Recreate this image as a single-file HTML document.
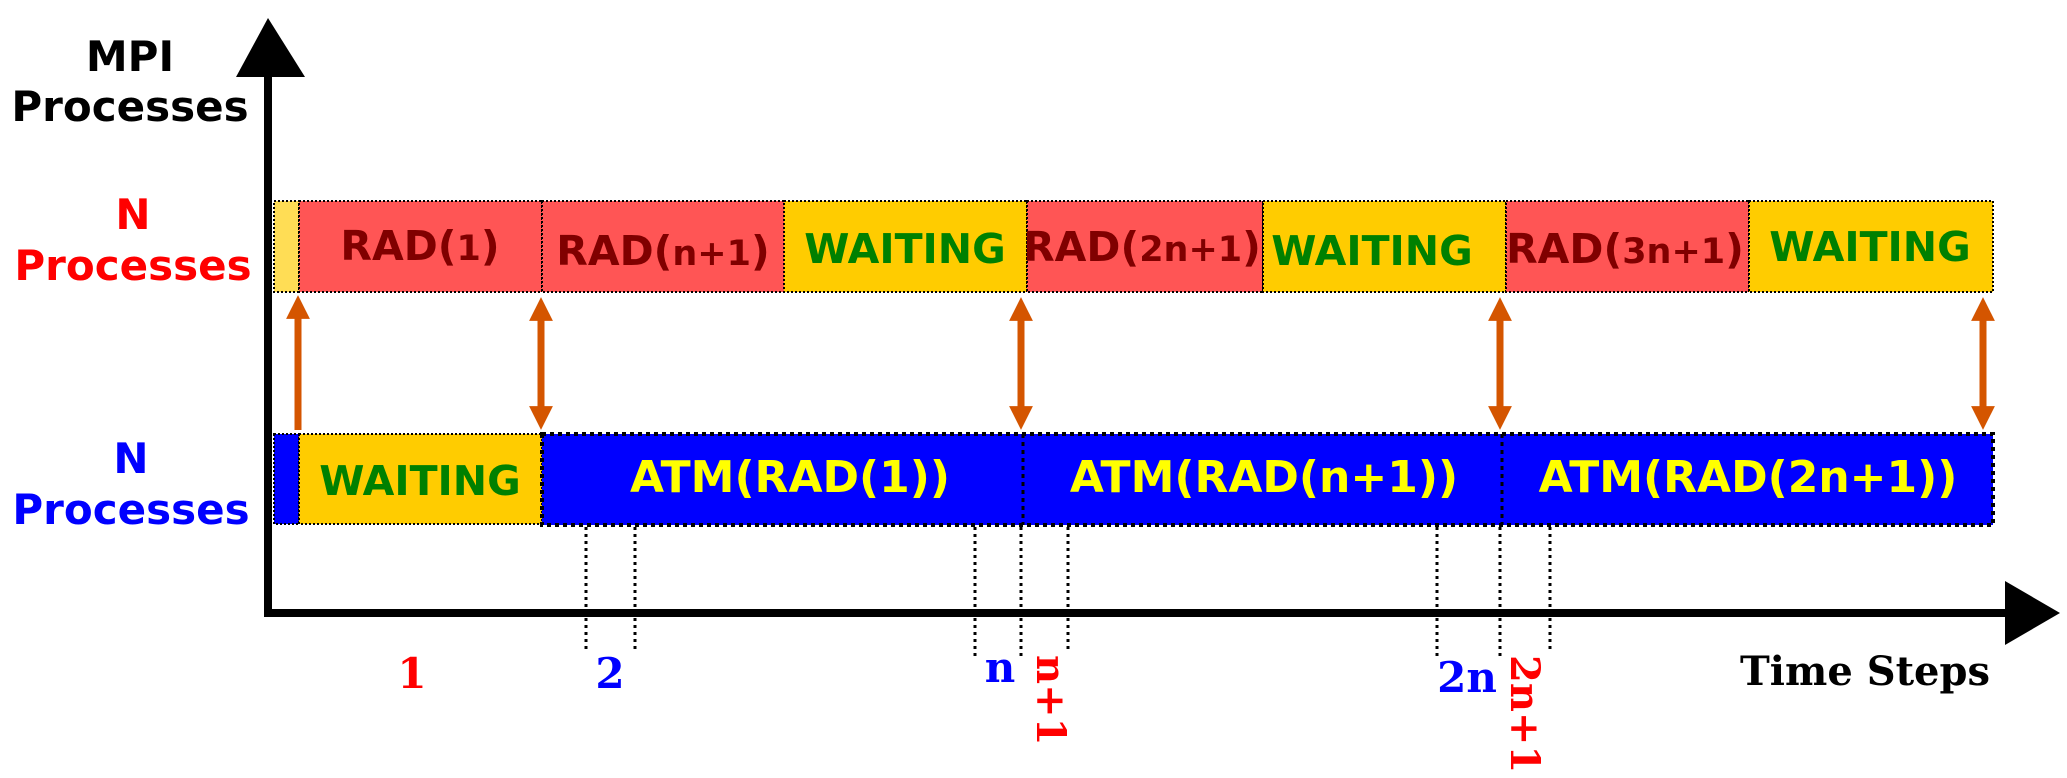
<!DOCTYPE html>
<html><head><meta charset="utf-8"><style>
html,body{margin:0;padding:0;background:#fff;}
svg{display:block;}
.b{font-family:"DejaVu Sans","Liberation Sans",sans-serif;font-weight:bold;}
.s{font-family:"DejaVu Serif","Liberation Serif",serif;font-weight:bold;}
</style></head><body>
<svg width="2067" height="778" viewBox="0 0 2067 778" xmlns="http://www.w3.org/2000/svg">
<defs>
<marker id="ah" viewBox="0 0 10 10" refX="5" refY="5" markerWidth="3.4" markerHeight="4" orient="auto-start-reverse" markerUnits="strokeWidth">
<path d="M0,0 L10,5 L0,10 z" fill="#d45500"/></marker>
</defs>
<line x1="268" y1="70" x2="268" y2="617" stroke="#000" stroke-width="8"/>
<polygon points="236,77 268,18 305,77" fill="#000"/>
<line x1="264" y1="613" x2="2010" y2="613" stroke="#000" stroke-width="8"/>
<polygon points="2005,581 2060,613 2005,645" fill="#000"/>
<g class="b" font-size="42" text-anchor="middle">
<text x="130" y="71" fill="#000">MPI</text>
<text x="130" y="121" fill="#000">Processes</text>
<text x="133" y="229" fill="#ff0000">N</text>
<text x="133" y="280" fill="#ff0000">Processes</text>
<text x="131" y="473" fill="#0000ff">N</text>
<text x="131" y="524" fill="#0000ff">Processes</text>
</g>
<g stroke="#000" stroke-width="2" stroke-dasharray="2,2">
<rect x="274" y="201" width="25" height="91" fill="#ffdd55"/>
<rect x="299" y="201" width="243" height="91" fill="#ff5555"/>
<rect x="542" y="201" width="242" height="91" fill="#ff5555"/>
<rect x="784" y="201" width="243" height="91" fill="#ffcc00"/>
<rect x="1027" y="201" width="236" height="91" fill="#ff5555"/>
<rect x="1263" y="201" width="243" height="91" fill="#ffcc00"/>
<rect x="1506" y="201" width="243" height="91" fill="#ff5555"/>
<rect x="1749" y="201" width="244" height="91" fill="#ffcc00"/>
</g>
<g class="b" font-size="41" text-anchor="middle">
<text x="420" y="260" fill="#800000">RAD(<tspan font-size="35">1</tspan>)</text>
<text x="663" y="265" fill="#800000">RAD(<tspan font-size="35">n+1</tspan>)</text>
<text x="905" y="263" fill="#008000">WAITING</text>
<text x="1142" y="261" fill="#800000">RAD(<tspan font-size="35">2n+1</tspan>)</text>
<text x="1372" y="265" fill="#008000">WAITING</text>
<text x="1625" y="263" fill="#800000">RAD(<tspan font-size="35">3n+1</tspan>)</text>
<text x="1870" y="261" fill="#008000">WAITING</text>
</g>
<g stroke="#000" stroke-width="2" stroke-dasharray="2,2">
<rect x="274" y="434" width="25" height="90" fill="#0000ff"/>
<rect x="299" y="434" width="243" height="90" fill="#ffcc00"/>
</g>
<rect x="542" y="434" width="1451" height="91" fill="#0000ff" stroke="#000" stroke-width="4" stroke-dasharray="4,4"/>
<line x1="1023" y1="434" x2="1023" y2="525" stroke="#000" stroke-width="3" stroke-dasharray="4,4"/>
<line x1="1502" y1="434" x2="1502" y2="525" stroke="#000" stroke-width="3" stroke-dasharray="4,4"/>
<g class="b" text-anchor="middle">
<text x="420" y="495" font-size="41" fill="#008000">WAITING</text>
<text x="790" y="492" font-size="44" fill="#ffff00">ATM(RAD(1))</text>
<text x="1264" y="492" font-size="44" fill="#ffff00">ATM(RAD(n+1))</text>
<text x="1748" y="492" font-size="44" fill="#ffff00">ATM(RAD(2n+1))</text>
</g>
<g stroke="#d45500" stroke-width="7">
<line x1="298" y1="430" x2="298" y2="307" marker-end="url(#ah)"/>
<line x1="541" y1="309" x2="541" y2="418" marker-start="url(#ah)" marker-end="url(#ah)"/>
<line x1="1021" y1="309" x2="1021" y2="418" marker-start="url(#ah)" marker-end="url(#ah)"/>
<line x1="1500" y1="309" x2="1500" y2="418" marker-start="url(#ah)" marker-end="url(#ah)"/>
<line x1="1983" y1="309" x2="1983" y2="418" marker-start="url(#ah)" marker-end="url(#ah)"/>
</g>
<g stroke="#000" stroke-width="3" stroke-dasharray="3,4">
<line x1="586" y1="527" x2="586" y2="652"/>
<line x1="635" y1="527" x2="635" y2="652"/>
<line x1="975" y1="527" x2="975" y2="660"/>
<line x1="1021" y1="527" x2="1021" y2="660"/>
<line x1="1068" y1="527" x2="1068" y2="652"/>
<line x1="1437" y1="527" x2="1437" y2="660"/>
<line x1="1500" y1="527" x2="1500" y2="660"/>
<line x1="1550" y1="527" x2="1550" y2="652"/>
</g>
<g class="s" font-size="42">
<text x="412" y="688" fill="#ff0000" text-anchor="middle">1</text>
<text x="610" y="688" fill="#0000ff" text-anchor="middle">2</text>
<text x="1000" y="682" fill="#0000ff" text-anchor="middle">n</text>
<text x="1467" y="692" fill="#0000ff" text-anchor="middle">2n</text>
<text transform="translate(1037,655) rotate(90)" fill="#ff0000" font-size="40">n+1</text>
<text transform="translate(1511,655) rotate(90)" fill="#ff0000" font-size="40">2n+1</text>
<text x="1990" y="685" fill="#000" text-anchor="end" font-size="40">Time Steps</text>
</g>
</svg>
</body></html>
